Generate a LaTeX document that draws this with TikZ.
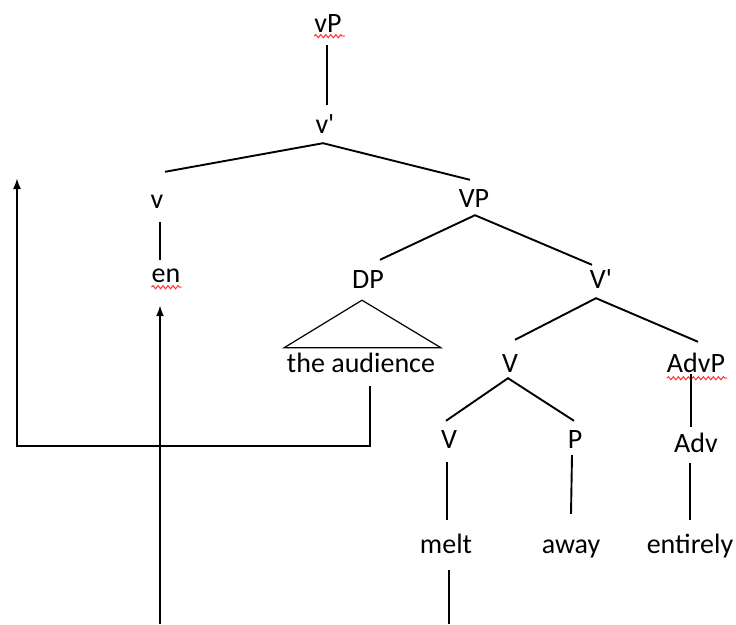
\documentclass[tikz,border=0pt]{standalone}
\usepackage{fontspec}
\setmainfont{Carlito}[Ligatures=TeXOff]
\usetikzlibrary{calc,arrows.meta,decorations.pathmorphing}
\begin{document}
\begin{tikzpicture}[x=1pt,y=-1pt,
  lbl/.style={font=\fontsize{28}{32}\selectfont, inner sep=0pt, text height=18pt, text depth=0pt, anchor=base},
  edge/.style={line width=1.9pt, black},
  tri/.style={line width=1.2pt, black},
  arr/.style={line width=1.9pt, black, -{Latex[length=11pt,width=8pt]}},
  squig/.style={red!80, line width=1pt, decorate, decoration={snake, amplitude=1.6pt, segment length=5pt}}]
\useasboundingbox (0,0) rectangle (736,624);
% nodes
\node[lbl] (vP) at (328,32) {vP};
\node[lbl] (v1) at (325,133) {v'};
\node[lbl] (vv) at (157,208) {v};
\node[lbl] (en) at (166,282) {en};
\node[lbl] (VP) at (474,207) {VP};
\node[lbl] (DP) at (368,288) {DP};
\node[lbl] (Vbar) at (601,288) {V'};
\node[lbl] (aud) at (361,372) {the audience};
\node[lbl] (Vm) at (510,372) {V};
\node[lbl] (AdvP) at (696,372) {AdvP};
\node[lbl] (Vl) at (449,448) {V};
\node[lbl] (P) at (575,448) {P};
\node[lbl] (Adv) at (696,452) {Adv};
\node[lbl] (melt) at (446,553) {melt};
\node[lbl] (away) at (571,553) {away};
\node[lbl] (entirely) at (690,553) {entirely};
\coordinate (c1) at (17,178);
\coordinate (c2) at (17,446);
\coordinate (b1) at (449,624);
\coordinate (b2) at (160,624);
% spell-check squiggles
\draw[squig] ($(vP.south west)+(0,4)$) -- ($(vP.south east)+(3,4)$);
\draw[squig] ($(en.south west)+(0,5)$) -- ($(en.south east)+(1,5)$);
\draw[squig] ($(AdvP.south west)+(0,6)$) -- ($(AdvP.south east)+(2,6)$);
% tree edges
\draw[edge] ($(vP.south)+(-1,13)$) -- ($(v1.north)+(2,-10)$);
\draw[edge] ($(vv.north)+(8,-18)$) -- ($(v1.south)+(-2,10)$) -- ($(VP.north)+(-4,-9)$);
\draw[edge] ($(vv.south)+(3,14)$) -- ($(en.north)+(-6,-4)$);
\draw[edge] ($(DP.north)+(12,-10)$) -- ($(VP.south)+(1,8)$) -- ($(Vbar.north)+(-9,-5)$);
\draw[tri] ($(aud.north)+(-77,-6)$) -- ($(DP.south)+(-6,12)$) -- ($(aud.north)+(80,-6)$) -- cycle;
\draw[edge] ($(Vm.north)+(5,-14)$) -- ($(Vbar.south)+(-5,10)$) -- ($(AdvP.north)+(2,-12)$);
\draw[edge] ($(Vl.north)+(-3,-9)$) -- ($(Vm.south)+(-2,6)$) -- ($(P.north)+(-1,-9)$);
\draw[edge] ($(AdvP.south)+(-5,2)$) -- ($(Adv.north)+(-5,-7)$);
\draw[edge] ($(Vl.south)+(-2,14)$) -- ($(melt.north)+(1,-15)$);
\draw[edge] ($(P.south)+(-3,7)$) -- ($(away.north)+(0,-21)$);
\draw[edge] ($(Adv.south)+(-6,11)$) -- ($(entirely.north)+(0,-15)$);
% movement lines
\draw[edge] ($(melt.south)+(3,17)$) -- (b1);
\draw[arr] (b2) -- ($(en.south)+(-6,23)$);
\draw[arr] ($(aud.south)+(9,14)$) |- (c2) -- (c1);
\end{tikzpicture}
\end{document}
